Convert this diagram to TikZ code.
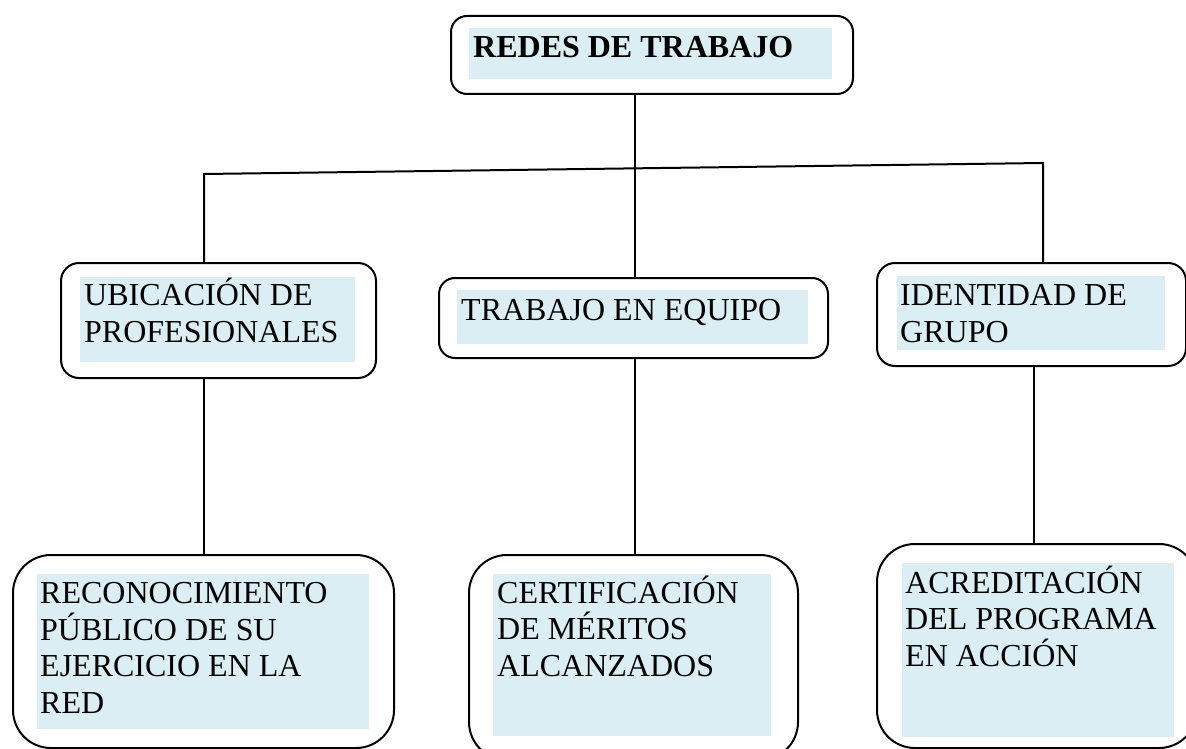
\documentclass[tikz,border=0pt]{standalone}
\usepackage{fontspec}
\setmainfont{Liberation Serif}
\definecolor{lb}{HTML}{DAEEF3}
\tikzset{
  box/.style={draw, line width=2pt, rounded corners=#1, inner sep=0pt, anchor=north west},
  fillbox/.style={fill=lb, inner sep=0pt, anchor=north west},
  txt/.style={anchor=base west, inner sep=0pt, align=left, font=\fontsize{32}{36.5}\selectfont},
  conn/.style={line width=2pt}
}
\begin{document}
\begin{tikzpicture}[x=1pt,y=-1pt]
\useasboundingbox (0,0) rectangle (1186,749);
\clip (0,0) rectangle (1186,749);
% top
\node[box=16pt, minimum width=402pt, minimum height=78pt] (top) at (450,15) {};
\node[fillbox, minimum width=363pt, minimum height=51pt] (topf) at (469,28) {};
\node[txt, font=\fontsize{32}{36.5}\selectfont\bfseries] (topt) at (473,58) {REDES DE TRABAJO};
% middle row
\node[box=18pt, minimum width=315pt, minimum height=115pt] (lm) at (60,262) {};
\node[fillbox, minimum width=275pt, minimum height=85pt] (lmf) at (80,277) {};
\node[txt] (lmt) at (84,342) {UBICACIÓN DE\\PROFESIONALES};
\node[box=16pt, minimum width=389pt, minimum height=80pt] (mm) at (438,277) {};
\node[fillbox, minimum width=351pt, minimum height=54pt] (mmf) at (457,290) {};
\node[txt] (mmt) at (461,320) {TRABAJO EN EQUIPO};
\node[box=18pt, minimum width=309pt, minimum height=103pt] (rm) at (876,262) {};
\node[fillbox, minimum width=268pt, minimum height=74pt] (rmf) at (897,276) {};
\node[txt] (rmt) at (900,342) {IDENTIDAD DE\\GRUPO};
% bottom row
\node[box=38pt, minimum width=381pt, minimum height=193pt] (bl) at (12,554) {};
\node[fillbox, minimum width=332pt, minimum height=155pt] (blf) at (37,574) {};
\node[txt] (blt) at (40,713) {RECONOCIMIENTO\\PÚBLICO DE SU\\EJERCICIO EN LA\\RED};
\node[box=38pt, minimum width=329pt, minimum height=205pt] (bm) at (468,554) {};
\node[fillbox, minimum width=278pt, minimum height=162pt] (bmf) at (493,574) {};
\node[txt] (bmt) at (497,676) {CERTIFICACIÓN\\DE MÉRITOS\\ALCANZADOS};
\node[box=38pt, minimum width=320pt, minimum height=204pt] (br) at (876,543) {};
\node[fillbox, minimum width=272pt, minimum height=174pt] (brf) at (902,563) {};
\node[txt] (brt) at (905,666) {ACREDITACIÓN\\DEL PROGRAMA\\EN ACCIÓN};
% connectors
\coordinate (jl) at (204,174);
\coordinate (jr) at (1043,163);
\coordinate (jm) at (635,170);
\draw[conn] (top.south -| jm) -- (mm.north -| jm);
\draw[conn] (lm.north -| jl) -- (jl) -- (jr) -- (rm.north -| jr);
\draw[conn] (lm.south -| bl.north) -- (bl.north);
\draw[conn] (mm.south -| jm) -- (bm.north -| jm);
\coordinate (jb) at (1034,0);
\draw[conn] (rm.south -| jb) -- (br.north -| jb);
\end{tikzpicture}
\end{document}
